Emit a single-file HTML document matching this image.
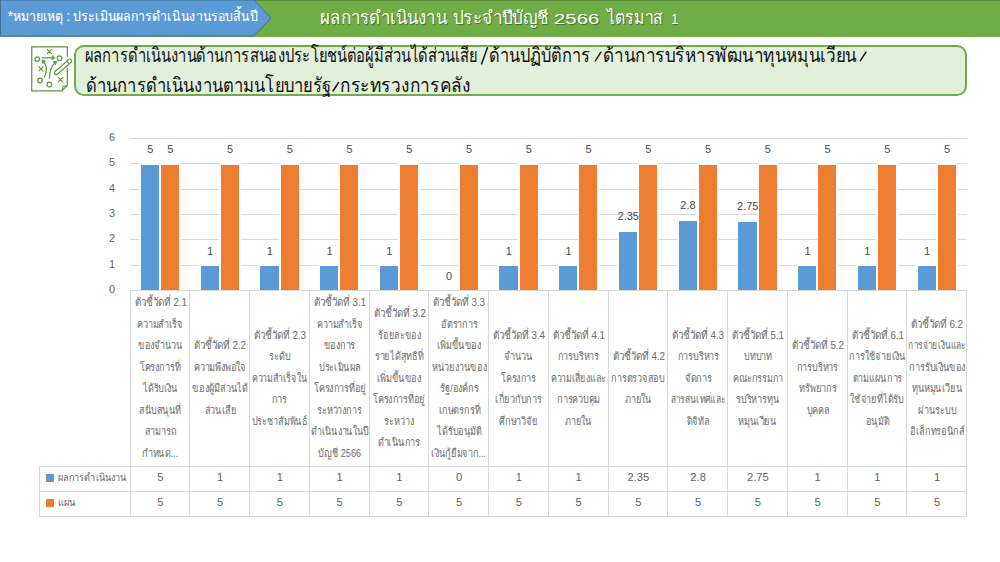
<!DOCTYPE html>
<html><head><meta charset="utf-8"><style>
*{margin:0;padding:0;box-sizing:border-box}
html,body{width:1000px;height:562px;overflow:hidden;background:#fff;font-family:"Liberation Sans",sans-serif;position:relative}
.t{position:absolute;white-space:nowrap;transform-origin:0 0}
#greenbar{position:absolute;left:0;top:0;width:1000px;height:36.5px;background:#70ad47;border-top:1px solid #5a8c39}
#bluebar{position:absolute;left:0;top:0;width:272px;height:37px}
#bluetxt{left:7.5px;top:6.1px;color:#fff;font-size:14px;line-height:20px;transform:scaleX(0.88);-webkit-text-stroke:0.12px #fff}
.gt{top:6.4px;color:#fff;font-size:18.1px;line-height:24px;text-shadow:1px 1px 1px rgba(0,0,0,.35)}
#titlebox{position:absolute;left:74px;top:45px;width:893px;height:51px;background:#e2efda;border:2.75px solid #70ad47;border-radius:10px}
.title{font-size:19.6px;line-height:28px;color:#111}
.sl{transform:scaleX(1.75)}
.icon{position:absolute;left:30px;top:45px}
.gl{position:absolute;left:130px;width:837px;height:1px;background:#d9d9d9}
.yl{position:absolute;left:97px;width:18px;text-align:right;font-size:11px;color:#666;line-height:20px}
.wb{position:absolute;width:21.5px;background:#fff}
.bar{position:absolute;width:18.3px}
.dl{position:absolute;width:40px;text-align:center;font-size:11px;color:#4a4a4a;line-height:20px}
.vl{position:absolute;top:290px;width:1px;height:226px;background:#d9d9d9}
.hl{position:absolute;height:1px;background:#d9d9d9}
.hc{position:absolute;top:290.4px;height:176px;display:flex;flex-direction:column;align-items:center;justify-content:center;overflow:hidden}
.ln{font-size:11.2px;line-height:21.5px;height:21.5px;color:#6b6b6b;white-space:nowrap;transform:scaleX(0.88)}
.rc{position:absolute;height:25px;line-height:25px;text-align:center;font-size:11.2px;color:#636363}
.leg{position:absolute;left:46px;width:8px;height:8px}
.lt{font-size:10.7px;color:#676767;line-height:25px;transform:scaleX(0.834)}
</style></head><body>
<div id="greenbar"></div>
<svg id="bluebar" width="272" height="37" viewBox="0 0 272 37"><path d="M0.5 0 H254 L271 18 L254 36 H0.5 Z" fill="#5b9bd5" stroke="#41719c" stroke-width="1"/></svg>
<div class="t" id="bluetxt">*หมายเหตุ : ประเมินผลการดำเนินงานรอบสิ้นปี</div>
<div class="t gt" style="left:319.6px;transform:scaleX(0.933)">ผลการดำเนินงาน</div>
<div class="t gt" style="left:453.1px;transform:scaleX(0.944)">ประจำปีบัญชี</div>
<div class="t gt" style="left:554.1px;transform-origin:0 17.6px;transform:scale(1.128,0.815)">2566</div>
<div class="t gt" style="left:607.1px;transform:scaleX(0.874)">ไตรมาส</div>
<div class="t gt" style="left:671px;transform-origin:0 17.6px;transform:scale(0.75,0.815)">1</div>
<svg class="icon" width="46" height="50" viewBox="0 0 46 50" fill="none" stroke="#5e9b3d" stroke-width="1.25" stroke-linecap="round" stroke-linejoin="round">
<path d="M37.35 11.3 V1.85 H1.75 V45.95 H31.8 L37.35 40.2 V23.2"/>
<path d="M37 40.6 L33 41.2 L32.2 45.6" stroke-width="1.1"/>
<circle cx="7.3" cy="14.1" r="2.3"/><circle cx="29.6" cy="13.2" r="2.3"/>
<circle cx="10" cy="35.5" r="2.3"/><circle cx="19.4" cy="39.5" r="2.3"/>
<path d="M17.4 4.6 l4 4 M21.4 4.6 l-4 4"/>
<path d="M8.9 21.9 l4 4 M12.9 21.9 l-4 4"/>
<path d="M28.5 32.6 l4 4 M32.5 32.6 l-4 4"/>
<path d="M12.2 12.8 H23.5"/>
<path d="M22.4 10.9 L25 12.8 L22.4 14.7 Z" fill="#5e9b3d" stroke-width="0.8"/>
<path d="M14.5 31.9 Q18.5 24 14.2 17.2"/>
<path d="M12.2 15 L15.6 15.9 L13.1 18.4 Z" fill="#5e9b3d" stroke-width="0.8"/>
<path d="M19.4 33.3 Q19.5 22.5 25.2 17.8"/>
<path d="M23.4 16.6 L26.8 16.3 L25.5 19.4 Z" fill="#5e9b3d" stroke-width="0.8"/>
<g transform="translate(25.3,28.6) rotate(-41)"><rect x="-0.6" y="-1.8" width="21.6" height="3.6" rx="1.8"/><path d="M16.8 -1.8 V1.8"/></g>
</svg>
<div id="titlebox"></div>
<div class="t title" style="left:84.9px;top:41.1px;transform:scaleX(0.752)">ผลการดำเนินงานด้านการสนองประโยชน์ต่อผู้มีส่วนได้ส่วนเสีย</div>
<div class="t title" style="left:489.4px;top:41.1px;transform:scaleX(0.836)">ด้านปฏิบัติการ</div>
<div class="t title" style="left:603.3px;top:41.1px;transform:scaleX(0.871)">ด้านการบริหารพัฒนาทุนหมุนเวียน</div>
<svg style="position:absolute;left:0;top:0" width="1000" height="100" stroke="#111" stroke-width="1.45" stroke-linecap="round"><path d="M481.6 63.8 L487.4 47.8 M595.3 60.8 L600.9 52.2 M860.3 60.8 L865.9 52.2 M333 91 L338.6 82.5"/></svg>
<div class="t title" style="left:85.55px;top:71.2px;transform:scaleX(0.846)">ด้านการดำเนินงานตามนโยบายรัฐ</div>
<div class="t title" style="left:340.1px;top:71.2px;transform:scaleX(0.881)">กระทรวงการคลัง</div>
<div class="gl" style="top:265px"></div><div class="gl" style="top:239px"></div><div class="gl" style="top:214px"></div><div class="gl" style="top:189px"></div><div class="gl" style="top:163px"></div><div class="gl" style="top:138px"></div><div class="yl" style="top:279.1px">0</div><div class="yl" style="top:253.8px">1</div><div class="yl" style="top:228.4px">2</div><div class="yl" style="top:203.1px">3</div><div class="yl" style="top:177.8px">4</div><div class="yl" style="top:152.4px">5</div><div class="yl" style="top:127.1px">6</div><div class="wb" style="left:139.3px;top:163.2px;height:127.2px"></div><div class="bar" style="left:140.9px;top:164.9px;height:125.4px;background:#5b9bd5"></div><div class="wb" style="left:159.4px;top:163.2px;height:127.2px"></div><div class="bar" style="left:161.0px;top:164.9px;height:125.4px;background:#ed7d31"></div><div class="wb" style="left:199.0px;top:264.5px;height:25.9px"></div><div class="bar" style="left:200.6px;top:266.3px;height:24.1px;background:#5b9bd5"></div><div class="wb" style="left:219.1px;top:163.2px;height:127.2px"></div><div class="bar" style="left:220.7px;top:164.9px;height:125.4px;background:#ed7d31"></div><div class="wb" style="left:258.8px;top:264.5px;height:25.9px"></div><div class="bar" style="left:260.4px;top:266.3px;height:24.1px;background:#5b9bd5"></div><div class="wb" style="left:278.9px;top:163.2px;height:127.2px"></div><div class="bar" style="left:280.5px;top:164.9px;height:125.4px;background:#ed7d31"></div><div class="wb" style="left:318.5px;top:264.5px;height:25.9px"></div><div class="bar" style="left:320.1px;top:266.3px;height:24.1px;background:#5b9bd5"></div><div class="wb" style="left:338.6px;top:163.2px;height:127.2px"></div><div class="bar" style="left:340.2px;top:164.9px;height:125.4px;background:#ed7d31"></div><div class="wb" style="left:378.3px;top:264.5px;height:25.9px"></div><div class="bar" style="left:379.9px;top:266.3px;height:24.1px;background:#5b9bd5"></div><div class="wb" style="left:398.4px;top:163.2px;height:127.2px"></div><div class="bar" style="left:400.0px;top:164.9px;height:125.4px;background:#ed7d31"></div><div class="wb" style="left:458.1px;top:163.2px;height:127.2px"></div><div class="bar" style="left:459.7px;top:164.9px;height:125.4px;background:#ed7d31"></div><div class="wb" style="left:497.8px;top:264.5px;height:25.9px"></div><div class="bar" style="left:499.4px;top:266.3px;height:24.1px;background:#5b9bd5"></div><div class="wb" style="left:517.9px;top:163.2px;height:127.2px"></div><div class="bar" style="left:519.5px;top:164.9px;height:125.4px;background:#ed7d31"></div><div class="wb" style="left:557.5px;top:264.5px;height:25.9px"></div><div class="bar" style="left:559.1px;top:266.3px;height:24.1px;background:#5b9bd5"></div><div class="wb" style="left:577.6px;top:163.2px;height:127.2px"></div><div class="bar" style="left:579.2px;top:164.9px;height:125.4px;background:#ed7d31"></div><div class="wb" style="left:617.3px;top:230.3px;height:60.1px"></div><div class="bar" style="left:618.9px;top:232.1px;height:58.3px;background:#5b9bd5"></div><div class="wb" style="left:637.4px;top:163.2px;height:127.2px"></div><div class="bar" style="left:639.0px;top:164.9px;height:125.4px;background:#ed7d31"></div><div class="wb" style="left:677.0px;top:218.9px;height:71.5px"></div><div class="bar" style="left:678.6px;top:220.7px;height:69.7px;background:#5b9bd5"></div><div class="wb" style="left:697.1px;top:163.2px;height:127.2px"></div><div class="bar" style="left:698.7px;top:164.9px;height:125.4px;background:#ed7d31"></div><div class="wb" style="left:736.8px;top:220.1px;height:70.3px"></div><div class="bar" style="left:738.4px;top:221.9px;height:68.5px;background:#5b9bd5"></div><div class="wb" style="left:756.9px;top:163.2px;height:127.2px"></div><div class="bar" style="left:758.5px;top:164.9px;height:125.4px;background:#ed7d31"></div><div class="wb" style="left:796.5px;top:264.5px;height:25.9px"></div><div class="bar" style="left:798.1px;top:266.3px;height:24.1px;background:#5b9bd5"></div><div class="wb" style="left:816.6px;top:163.2px;height:127.2px"></div><div class="bar" style="left:818.2px;top:164.9px;height:125.4px;background:#ed7d31"></div><div class="wb" style="left:856.3px;top:264.5px;height:25.9px"></div><div class="bar" style="left:857.9px;top:266.3px;height:24.1px;background:#5b9bd5"></div><div class="wb" style="left:876.4px;top:163.2px;height:127.2px"></div><div class="bar" style="left:878.0px;top:164.9px;height:125.4px;background:#ed7d31"></div><div class="wb" style="left:916.0px;top:264.5px;height:25.9px"></div><div class="bar" style="left:917.6px;top:266.3px;height:24.1px;background:#5b9bd5"></div><div class="wb" style="left:936.1px;top:163.2px;height:127.2px"></div><div class="bar" style="left:937.7px;top:164.9px;height:125.4px;background:#ed7d31"></div><div class="dl" style="left:130.3px;top:139.2px">5</div><div class="dl" style="left:150.4px;top:139.2px">5</div><div class="dl" style="left:190.0px;top:240.6px">1</div><div class="dl" style="left:210.1px;top:139.2px">5</div><div class="dl" style="left:249.8px;top:240.6px">1</div><div class="dl" style="left:269.9px;top:139.2px">5</div><div class="dl" style="left:309.5px;top:240.6px">1</div><div class="dl" style="left:329.6px;top:139.2px">5</div><div class="dl" style="left:369.3px;top:240.6px">1</div><div class="dl" style="left:389.4px;top:139.2px">5</div><div class="dl" style="left:429.0px;top:265.9px">0</div><div class="dl" style="left:449.1px;top:139.2px">5</div><div class="dl" style="left:488.8px;top:240.6px">1</div><div class="dl" style="left:508.9px;top:139.2px">5</div><div class="dl" style="left:548.5px;top:240.6px">1</div><div class="dl" style="left:568.6px;top:139.2px">5</div><div class="dl" style="left:608.3px;top:206.4px">2.35</div><div class="dl" style="left:628.4px;top:139.2px">5</div><div class="dl" style="left:668.0px;top:195.0px">2.8</div><div class="dl" style="left:688.1px;top:139.2px">5</div><div class="dl" style="left:727.8px;top:196.2px">2.75</div><div class="dl" style="left:747.9px;top:139.2px">5</div><div class="dl" style="left:787.5px;top:240.6px">1</div><div class="dl" style="left:807.6px;top:139.2px">5</div><div class="dl" style="left:847.3px;top:240.6px">1</div><div class="dl" style="left:867.4px;top:139.2px">5</div><div class="dl" style="left:907.0px;top:240.6px">1</div><div class="dl" style="left:927.1px;top:139.2px">5</div><div class="hc" style="left:130.5px;width:59.8px"><div class="ln" style="transform:scaleX(0.879)">ตัวชี้วัดที่ 2.1</div><div class="ln" style="transform:scaleX(0.812)">ความสำเร็จ</div><div class="ln" style="transform:scaleX(0.812)">ของจำนวน</div><div class="ln" style="transform:scaleX(0.812)">โครงการที่</div><div class="ln" style="transform:scaleX(0.812)">ได้รับเงิน</div><div class="ln" style="transform:scaleX(0.812)">สนับสนุนที่</div><div class="ln" style="transform:scaleX(0.812)">สามารถ</div><div class="ln" style="transform:scaleX(0.812)">กำหนด...</div></div><div class="rc" style="left:130.5px;top:465px;width:59.8px">5</div><div class="rc" style="left:130.5px;top:490px;width:59.8px">5</div><div class="hc" style="left:190.2px;width:59.8px"><div class="ln" style="transform:scaleX(0.879)">ตัวชี้วัดที่ 2.2</div><div class="ln" style="transform:scaleX(0.812)">ความพึงพอใจ</div><div class="ln" style="transform:scaleX(0.812)">ของผู้มีส่วนได้</div><div class="ln" style="transform:scaleX(0.812)">ส่วนเสีย</div></div><div class="rc" style="left:190.2px;top:465px;width:59.8px">1</div><div class="rc" style="left:190.2px;top:490px;width:59.8px">5</div><div class="hc" style="left:250.0px;width:59.8px"><div class="ln" style="transform:scaleX(0.879)">ตัวชี้วัดที่ 2.3</div><div class="ln" style="transform:scaleX(0.812)">ระดับ</div><div class="ln" style="transform:scaleX(0.796)">ความสำเร็จใน</div><div class="ln" style="transform:scaleX(0.812)">การ</div><div class="ln" style="transform:scaleX(0.808)">ประชาสัมพันธ์</div></div><div class="rc" style="left:250.0px;top:465px;width:59.8px">1</div><div class="rc" style="left:250.0px;top:490px;width:59.8px">5</div><div class="hc" style="left:309.8px;width:59.8px"><div class="ln" style="transform:scaleX(0.879)">ตัวชี้วัดที่ 3.1</div><div class="ln" style="transform:scaleX(0.812)">ความสำเร็จ</div><div class="ln" style="transform:scaleX(0.812)">ของการ</div><div class="ln" style="transform:scaleX(0.812)">ประเมินผล</div><div class="ln" style="transform:scaleX(0.812)">โครงการที่อยู่</div><div class="ln" style="transform:scaleX(0.812)">ระหว่างการ</div><div class="ln" style="transform:scaleX(0.796)">ดำเนินงานในปี</div><div class="ln" style="transform:scaleX(0.812)">บัญชี 2566</div></div><div class="rc" style="left:309.8px;top:465px;width:59.8px">1</div><div class="rc" style="left:309.8px;top:490px;width:59.8px">5</div><div class="hc" style="left:369.5px;width:59.8px"><div class="ln" style="transform:scaleX(0.879)">ตัวชี้วัดที่ 3.2</div><div class="ln" style="transform:scaleX(0.812)">ร้อยละของ</div><div class="ln" style="transform:scaleX(0.812)">รายได้สุทธิที่</div><div class="ln" style="transform:scaleX(0.812)">เพิ่มขึ้นของ</div><div class="ln" style="transform:scaleX(0.812)">โครงการที่อยู่</div><div class="ln" style="transform:scaleX(0.812)">ระหว่าง</div><div class="ln" style="transform:scaleX(0.812)">ดำเนินการ</div></div><div class="rc" style="left:369.5px;top:465px;width:59.8px">1</div><div class="rc" style="left:369.5px;top:490px;width:59.8px">5</div><div class="hc" style="left:429.2px;width:59.8px"><div class="ln" style="transform:scaleX(0.879)">ตัวชี้วัดที่ 3.3</div><div class="ln" style="transform:scaleX(0.812)">อัตราการ</div><div class="ln" style="transform:scaleX(0.812)">เพิ่มขึ้นของ</div><div class="ln" style="transform:scaleX(0.812)">หน่วยงานของ</div><div class="ln" style="transform:scaleX(0.812)">รัฐ/องค์กร</div><div class="ln" style="transform:scaleX(0.812)">เกษตรกรที่</div><div class="ln" style="transform:scaleX(0.812)">ได้รับอนุมัติ</div><div class="ln" style="transform:scaleX(0.812)">เงินกู้ยืมจาก...</div></div><div class="rc" style="left:429.2px;top:465px;width:59.8px">0</div><div class="rc" style="left:429.2px;top:490px;width:59.8px">5</div><div class="hc" style="left:489.0px;width:59.8px"><div class="ln" style="transform:scaleX(0.879)">ตัวชี้วัดที่ 3.4</div><div class="ln" style="transform:scaleX(0.812)">จำนวน</div><div class="ln" style="transform:scaleX(0.812)">โครงการ</div><div class="ln" style="transform:scaleX(0.812)">เกี่ยวกับการ</div><div class="ln" style="transform:scaleX(0.812)">ศึกษาวิจัย</div></div><div class="rc" style="left:489.0px;top:465px;width:59.8px">1</div><div class="rc" style="left:489.0px;top:490px;width:59.8px">5</div><div class="hc" style="left:548.8px;width:59.8px"><div class="ln" style="transform:scaleX(0.879)">ตัวชี้วัดที่ 4.1</div><div class="ln" style="transform:scaleX(0.812)">การบริหาร</div><div class="ln" style="transform:scaleX(0.796)">ความเสี่ยงและ</div><div class="ln" style="transform:scaleX(0.812)">การควบคุม</div><div class="ln" style="transform:scaleX(0.812)">ภายใน</div></div><div class="rc" style="left:548.8px;top:465px;width:59.8px">1</div><div class="rc" style="left:548.8px;top:490px;width:59.8px">5</div><div class="hc" style="left:608.5px;width:59.8px"><div class="ln" style="transform:scaleX(0.879)">ตัวชี้วัดที่ 4.2</div><div class="ln" style="transform:scaleX(0.812)">การตรวจสอบ</div><div class="ln" style="transform:scaleX(0.812)">ภายใน</div></div><div class="rc" style="left:608.5px;top:465px;width:59.8px">2.35</div><div class="rc" style="left:608.5px;top:490px;width:59.8px">5</div><div class="hc" style="left:668.2px;width:59.8px"><div class="ln" style="transform:scaleX(0.879)">ตัวชี้วัดที่ 4.3</div><div class="ln" style="transform:scaleX(0.812)">การบริหาร</div><div class="ln" style="transform:scaleX(0.812)">จัดการ</div><div class="ln" style="transform:scaleX(0.762)">สารสนเทศและ</div><div class="ln" style="transform:scaleX(0.812)">ดิจิทัล</div></div><div class="rc" style="left:668.2px;top:465px;width:59.8px">2.8</div><div class="rc" style="left:668.2px;top:490px;width:59.8px">5</div><div class="hc" style="left:728.0px;width:59.8px"><div class="ln" style="transform:scaleX(0.879)">ตัวชี้วัดที่ 5.1</div><div class="ln" style="transform:scaleX(0.812)">บทบาท</div><div class="ln" style="transform:scaleX(0.812)">คณะกรรมกา</div><div class="ln" style="transform:scaleX(0.812)">รบริหารทุน</div><div class="ln" style="transform:scaleX(0.812)">หมุนเวียน</div></div><div class="rc" style="left:728.0px;top:465px;width:59.8px">2.75</div><div class="rc" style="left:728.0px;top:490px;width:59.8px">5</div><div class="hc" style="left:787.8px;width:59.8px"><div class="ln" style="transform:scaleX(0.879)">ตัวชี้วัดที่ 5.2</div><div class="ln" style="transform:scaleX(0.812)">การบริหาร</div><div class="ln" style="transform:scaleX(0.812)">ทรัพยากร</div><div class="ln" style="transform:scaleX(0.812)">บุคคล</div></div><div class="rc" style="left:787.8px;top:465px;width:59.8px">1</div><div class="rc" style="left:787.8px;top:490px;width:59.8px">5</div><div class="hc" style="left:847.5px;width:59.8px"><div class="ln" style="transform:scaleX(0.879)">ตัวชี้วัดที่ 6.1</div><div class="ln" style="transform:scaleX(0.812)">การใช้จ่ายเงิน</div><div class="ln" style="transform:scaleX(0.812)">ตามแผนการ</div><div class="ln" style="transform:scaleX(0.812)">ใช้จ่ายที่ได้รับ</div><div class="ln" style="transform:scaleX(0.812)">อนุมัติ</div></div><div class="rc" style="left:847.5px;top:465px;width:59.8px">1</div><div class="rc" style="left:847.5px;top:490px;width:59.8px">5</div><div class="hc" style="left:907.2px;width:59.8px"><div class="ln" style="transform:scaleX(0.879)">ตัวชี้วัดที่ 6.2</div><div class="ln" style="transform:scaleX(0.751)">การจ่ายเงินและ</div><div class="ln" style="transform:scaleX(0.812)">การรับเงินของ</div><div class="ln" style="transform:scaleX(0.812)">ทุนหมุนเวียน</div><div class="ln" style="transform:scaleX(0.812)">ผ่านระบบ</div><div class="ln" style="transform:scaleX(0.812)">อิเล็กทรอนิกส์</div></div><div class="rc" style="left:907.2px;top:465px;width:59.8px">1</div><div class="rc" style="left:907.2px;top:490px;width:59.8px">5</div><div class="vl" style="left:130px"></div><div class="vl" style="left:189px"></div><div class="vl" style="left:249px"></div><div class="vl" style="left:309px"></div><div class="vl" style="left:369px"></div><div class="vl" style="left:428px"></div><div class="vl" style="left:488px"></div><div class="vl" style="left:548px"></div><div class="vl" style="left:608px"></div><div class="vl" style="left:667px"></div><div class="vl" style="left:727px"></div><div class="vl" style="left:787px"></div><div class="vl" style="left:847px"></div><div class="vl" style="left:906px"></div><div class="vl" style="left:966px"></div>
<div class="vl" style="left:39px;top:466px;height:50px"></div>
<div class="hl" style="left:130px;top:290px;width:837px"></div>
<div class="hl" style="left:39px;top:466px;width:928px"></div>
<div class="hl" style="left:39px;top:491px;width:928px"></div>
<div class="hl" style="left:39px;top:516px;width:928px"></div>
<div class="leg" style="top:474px;background:#5b9bd5"></div>
<div class="t lt" style="left:58.1px;top:465.2px;transform:scaleX(0.853)">ผลการดำเนินงาน</div>
<div class="leg" style="top:499px;background:#ed7d31"></div>
<div class="t lt" style="left:58.1px;top:489.5px;transform:scaleX(0.874)">แผน</div>
</body></html>
